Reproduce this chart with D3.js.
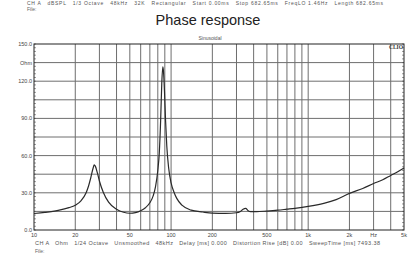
<!DOCTYPE html>
<html>
<head>
<meta charset="utf-8">
<script src="https://cdn.jsdelivr.net/npm/d3@7"></script>
<style>
  body { margin: 0; background: #fff; }
  text { font-family: "Liberation Sans", Arial, sans-serif; fill: #333; white-space: pre; }
</style>
</head>
<body>
<div id="chart"></div>
<script>
var freqs = [10, 12, 15, 18, 20, 22, 24, 25, 26, 27, 27.5, 28, 29, 30, 32, 35, 40, 45, 50, 55, 60, 65, 70, 74, 77, 80, 82, 84, 85.5, 87, 88, 89.5, 91, 93, 96, 100, 105, 110, 120, 140, 170, 200, 250, 300, 320, 335, 350, 365, 380, 420, 500, 600, 700, 800, 1000, 1300, 1600, 2000, 2500, 3000, 3500, 4000, 4500, 5000];
var ohms  = [13.3, 14.2, 15.8, 18.0, 20.0, 23.5, 30.0, 35.5, 42.5, 50.0, 52.5, 51.5, 46.0, 39.5, 30.5, 22.5, 16.8, 14.3, 13.5, 14.0, 15.5, 18.0, 22.0, 27.5, 35.0, 48.0, 62.0, 90.0, 118.0, 131.5, 128.0, 112.0, 90.0, 68.0, 50.0, 38.0, 30.5, 25.5, 20.0, 16.0, 14.5, 13.6, 13.4, 13.9, 15.0, 16.8, 17.5, 15.6, 14.8, 14.8, 15.3, 16.0, 16.8, 17.5, 19.0, 21.5, 24.5, 29.5, 33.5, 37.5, 40.5, 44.0, 47.0, 50.0];

var xGrid = [20, 30, 40, 50, 60, 70, 80, 90, 100, 200, 300, 400, 500, 600, 700, 800, 900, 1000, 2000, 3000, 4000];
var xTicks = [10, 20, 50, 100, 200, 500, 1000, 2000, 3000, 5000];
var xTickLabels = ["10", "20", "50", "100", "200", "500", "1k", "2k", "Hz", "5k"];
var yGrid = [15, 30, 45, 60, 75, 90, 105, 120, 135];
var yTicks = [0, 30, 60, 90, 120, 135, 150];
var yTickLabels = ["0.0", "30.0", "60.0", "90.0", "120.0", "Ohm", "150.0"];

var topInfo = "CH A   dBSPL   1/3 Octave   48kHz   32K   Rectangular   Start 0.00ms   Stop 682.65ms   FreqLO 1.46Hz   Length 682.65ms";
var bottomInfo = "CH A   Ohm   1/24 Octave   Unsmoothed   48kHz   Delay [ms] 0.000   Distortion Rise [dB] 0.00   SweepTime [ms] 7493.38";

var width = 412, height = 256;
var plotL = 34, plotR = 404, plotT = 44, plotB = 230;

var svg = d3.select("#chart").append("svg")
    .attr("width", width)
    .attr("height", height);

var x = d3.scaleLog().domain([10, 5000]).range([plotL, plotR]);
var y = d3.scaleLinear().domain([0, 150]).range([plotB, plotT]);

// header texts
svg.append("text").attr("x", 27).attr("y", 5)
    .attr("textLength", 356).attr("lengthAdjust", "spacing")
    .style("font-size", "5px").style("fill", "#555").text(topInfo);
svg.append("text").attr("x", 27).attr("y", 11)
    .style("font-size", "5px").style("fill", "#666").text("File:");
svg.append("text").attr("x", 208).attr("y", 25)
    .attr("text-anchor", "middle")
    .style("font-size", "14.5px").style("fill", "#222").text("Phase response");
svg.append("text").attr("x", 210).attr("y", 39.5)
    .attr("text-anchor", "middle")
    .style("font-size", "5px").style("fill", "#555").text("Sinusoidal");

// grid
svg.selectAll(".vg").data(xGrid).enter().append("line")
    .attr("x1", function(d){ return x(d); })
    .attr("x2", function(d){ return x(d); })
    .attr("y1", plotT).attr("y2", plotB)
    .style("stroke", "#6e6e6e").style("stroke-width", 1);

svg.selectAll(".hg").data(yGrid).enter().append("line")
    .attr("x1", plotL).attr("x2", plotR)
    .attr("y1", function(d){ return y(d); })
    .attr("y2", function(d){ return y(d); })
    .style("stroke", "#6e6e6e").style("stroke-width", 1);

// minor ticks on both sides
var minor = d3.range(0, 151, 3);
svg.selectAll(".ml").data(minor).enter().append("line")
    .attr("x1", plotL).attr("x2", plotL + 2)
    .attr("y1", function(d){ return y(d); })
    .attr("y2", function(d){ return y(d); })
    .style("stroke", "#555").style("stroke-width", 0.6);
svg.selectAll(".mr").data(minor).enter().append("line")
    .attr("x1", plotR - 2).attr("x2", plotR)
    .attr("y1", function(d){ return y(d); })
    .attr("y2", function(d){ return y(d); })
    .style("stroke", "#555").style("stroke-width", 0.6);

// frame
svg.append("rect")
    .attr("x", plotL).attr("y", plotT)
    .attr("width", plotR - plotL).attr("height", plotB - plotT)
    .style("fill", "none").style("stroke", "#222").style("stroke-width", 1);

// tick labels
svg.selectAll(".yl").data(yTicks).enter().append("text")
    .attr("x", plotL - 2)
    .attr("y", function(d){ return y(d) + 2; })
    .attr("text-anchor", "end")
    .style("font-size", "5.5px").style("fill", "#444")
    .text(function(d, i){ return yTickLabels[i]; });

svg.selectAll(".xl").data(xTicks).enter().append("text")
    .attr("x", function(d){ return x(d); })
    .attr("y", plotB + 7)
    .attr("text-anchor", "middle")
    .style("font-size", "5.5px").style("fill", "#444")
    .text(function(d, i){ return xTickLabels[i]; });

// CLIO mark
svg.append("text").attr("x", plotR - 1).attr("y", plotT + 5)
    .attr("text-anchor", "end")
    .style("font-size", "5.5px").style("font-weight", "bold")
    .style("font-family", "'Liberation Serif', serif").style("fill", "#333")
    .text("CLIO");

// curve
var line = d3.line()
    .x(function(d){ return x(d[0]); })
    .y(function(d){ return y(d[1]); })
    .curve(d3.curveMonotoneX);

svg.append("path")
    .datum(d3.zip(freqs, ohms))
    .attr("d", line)
    .style("fill", "none")
    .style("stroke", "#2a2a2a")
    .style("stroke-width", 1.2);

// footer texts
svg.append("text").attr("x", 35).attr("y", 245)
    .attr("textLength", 345).attr("lengthAdjust", "spacing")
    .style("font-size", "5.5px").style("fill", "#555").text(bottomInfo);
svg.append("text").attr("x", 35).attr("y", 253)
    .style("font-size", "5px").style("fill", "#666").text("File:");
</script>
</body>
</html>
